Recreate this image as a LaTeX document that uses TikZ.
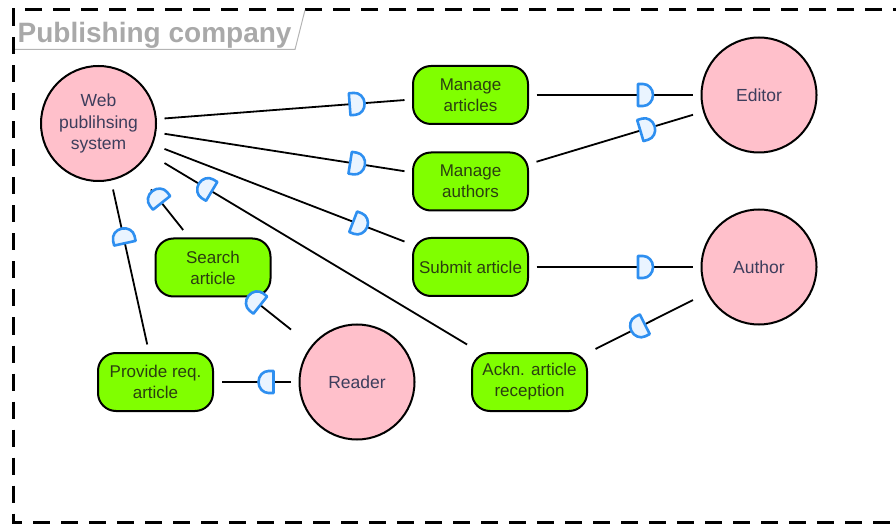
\documentclass[tikz,border=0pt]{standalone}
\usepackage{fontspec}
\setmainfont{Liberation Sans}
\usetikzlibrary{decorations.markings}
\definecolor{ink}      {HTML}{000000}
\definecolor{rolefill} {HTML}{FFC0CB}
\definecolor{roletext} {HTML}{3D3D5C}
\definecolor{lime}     {HTML}{80FF00}
\definecolor{limetext} {HTML}{2A3F10}
\definecolor{portblue} {HTML}{2E8FF0}
\definecolor{portfill} {HTML}{EAF4FF}
\definecolor{titlegray}{HTML}{A9A9A9}
\definecolor{tabline}  {HTML}{B4B4B4}
\tikzset{
  role/.style    = {rectangle, minimum size=118pt, inner sep=0pt, outer sep=7pt,
                    align=center, text=roletext, font=\fontsize{17.5}{21.5}\selectfont,
                    path picture={\draw[ink, line width=2pt, fill=rolefill]
                      (path picture bounding box.center) circle[radius=57.5pt];}},
  usecase/.style = {draw=ink, line width=2pt, rounded corners=18pt, fill=lime,
                    minimum width=115pt, minimum height=58pt, inner sep=2pt,
                    outer sep=8.5pt, align=center, text=limetext,
                    font=\fontsize{17}{21}\selectfont},
  conn/.style    = {ink, line width=1.8pt},
  port/.style    = {draw=portblue, fill=portfill, line width=2.6pt, line join=round},
  flow/.style    = {conn, postaction={decorate}, decoration={markings,
                    mark=at position #1 with {\draw[port] (0pt,-11pt) -- (5pt,-11pt)
                      arc[start angle=-90, end angle=90, x radius=10pt, y radius=11pt]
                      -- (0pt,11pt) -- cycle;}}},
  flow/.default  = -55pt,
  frame/.style   = {ink, line width=3pt, dash pattern=on 17pt off 11pt},
  title/.style   = {font=\fontsize{28}{32}\selectfont\bfseries, text=titlegray,
                    inner sep=0pt},
}
\begin{document}
\begin{tikzpicture}[x=1pt, y=-1pt]
  \useasboundingbox (0,0) rectangle (896,526);
  \clip (0,0) rectangle (896,526);

  % package frame and its tab
  \draw[frame] (910,10) -- (13.5,10) -- (13.5,522) -- (910,522);
  \node[title, anchor=base west] (title) at (17.5,42.5) {Publishing company};
  \draw[tabline, line width=1pt] (15,49.5) -- (295,49.5) -- (305,10);

  % actors
  \node[role] (web)    at (98.5,123.5) {Web\\publihsing\\system};
  \node[role] (editor) at (759,95)     {Editor};
  \node[role] (author) at (759,267)    {Author};
  \node[role] (reader) at (357,382)    {Reader};

  % use cases
  \node[usecase] (manart)  at (470.5,95)    {Manage\\articles};
  \node[usecase] (manauth) at (470.5,181.5) {Manage\\authors};
  \node[usecase] (submit)  at (470.5,267)   {Submit article};
  \node[usecase] (search)  at (213,267.5)   {Search\\article};
  \node[usecase] (provide) at (155.5,382)   {Provide req.\\article};
  \node[usecase] (ackn)    at (529.5,382)   {Ackn. article\\reception};

  \draw[flow] (web) -- (manart);
  \draw[flow] (web) -- (manauth);
  \draw[flow] (web) -- (submit);
  \draw[flow] (ackn) -- (web);
  \draw[flow] (manart) -- (editor);
  \draw[flow] (manauth) -- (editor);
  \draw[flow] (submit) -- (author);
  \draw[flow] (author) -- (ackn);
  \draw[flow] (provide) -- (web);
  \draw[flow=-17pt] (search) -- (web);
  \draw[flow=-0.1pt] (reader) -- (search);
  \draw[flow=-52pt] (reader) -- (provide);
\end{tikzpicture}
\end{document}
